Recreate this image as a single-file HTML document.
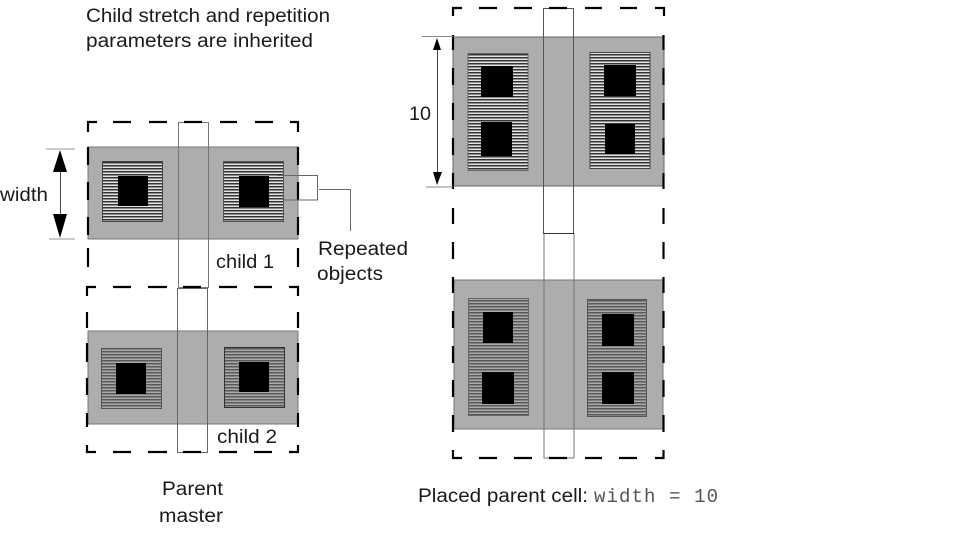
<!DOCTYPE html>
<html><head><meta charset="utf-8"><style>
html,body{margin:0;padding:0;background:#fff;width:963px;height:540px;overflow:hidden}
svg{display:block}
text{font-family:"Liberation Sans",sans-serif;font-size:19px;fill:#1a1a1a}
.m{font-family:"Liberation Mono",monospace;fill:#555;font-size:19px}
.d{fill:none;stroke:#000;stroke-width:2.2}
</style></head><body>
<svg width="963" height="540" viewBox="0 0 963 540" xmlns="http://www.w3.org/2000/svg">
<defs>
<pattern id="a" width="3" height="3" patternUnits="userSpaceOnUse"><rect width="3" height="3" fill="#e4e4e4"/><rect width="3" height="1.5" fill="#333"/></pattern>
<pattern id="b" width="3" height="3" patternUnits="userSpaceOnUse"><rect width="3" height="3" fill="#a8a8a8"/><rect width="3" height="1.5" fill="#5a5a5a"/></pattern>
</defs>

<!-- left top -->
<rect x="88" y="147" width="210" height="92" fill="#adadad" stroke="#777" stroke-width="1"/>
<rect x="102.500" y="161.500" width="60" height="60" fill="url(#a)" stroke="#444"/>
<rect x="118" y="176" width="30" height="30" fill="#000"/>
<rect x="223.500" y="161.500" width="60" height="60" fill="url(#a)" stroke="#555"/>
<rect x="239" y="176" width="30" height="31" fill="#000"/>
<rect x="178.500" y="122.500" width="30" height="165" fill="none" stroke="#777"/>
<path class="d" d="M88 132V122H97M113 122H131M149 122H167M184 122H202M220 122H237M255 122H273M290 122H298V132"/>
<path class="d" d="M88 147V165M88 182V200M88 217V235M88 248V267M298 147V165M298 182V200M298 217V235M298 248V267"/>
<path class="d" d="M87 296V287H96M113 287H131M148 287H167M183 287H201M219 287H237M254 287H272M289 287H298V296"/>

<!-- left bottom -->
<rect x="88" y="331" width="210" height="93" fill="#adadad" stroke="#777" stroke-width="1"/>
<rect x="101.500" y="348.500" width="60" height="60" fill="url(#b)" stroke="#555"/>
<rect x="116" y="363" width="30" height="31" fill="#000"/>
<rect x="224.500" y="347.500" width="60" height="60" fill="url(#b)" stroke="#333"/>
<rect x="239" y="362" width="30" height="30" fill="#000"/>
<rect x="177.500" y="288.500" width="30" height="164" fill="none" stroke="#666"/>
<path class="d" d="M87 312V328M87 343V362M87 378V395M87 413V427M298 312V328M298 343V362M298 378V395M298 413V427"/>
<path class="d" d="M87 445V452H96M113 452H131M148 452H167M183 452H201M219 452H237M254 452H272M289 452H298V445"/>

<!-- connector and dimensions (left) -->
<path d="M277 175.500H317.500V200H284M319 189.500H350.500V231" fill="none" stroke="#666"/>
<path d="M46 149H75M49 239H75" stroke="#999" stroke-width="1"/>
<path d="M60.500 170V216" stroke="#444"/>
<polygon points="60,150 67,172 53,172" fill="#000"/>
<polygon points="60,238 67,214 53,214" fill="#000"/>

<!-- right top -->
<rect x="453" y="37" width="211" height="149" fill="#adadad" stroke="#666" stroke-width="1"/>
<rect x="468" y="53.500" width="60" height="117" fill="url(#a)" stroke="#666"/>
<rect x="481" y="66" width="32" height="31" fill="#000"/>
<rect x="481" y="122" width="31" height="34" fill="#000"/>
<rect x="590" y="52.500" width="60" height="116" fill="url(#a)" stroke="#444"/>
<rect x="604" y="65" width="32" height="31" fill="#000"/>
<rect x="605" y="124" width="30" height="30" fill="#000"/>
<rect x="543.500" y="8.500" width="30" height="225" fill="none" stroke="#555"/>

<!-- right bottom -->
<rect x="454" y="280" width="209" height="149" fill="#adadad" stroke="#777" stroke-width="1"/>
<rect x="468.500" y="298.500" width="60" height="117" fill="url(#b)" stroke="#666"/>
<rect x="483" y="312" width="30" height="31" fill="#000"/>
<rect x="482" y="372" width="32" height="32" fill="#000"/>
<rect x="587.500" y="299.500" width="59" height="117" fill="url(#b)" stroke="#555"/>
<rect x="602" y="314" width="32" height="32" fill="#000"/>
<rect x="602" y="372" width="32" height="32" fill="#000"/>
<rect x="544" y="233.500" width="30" height="224.500" fill="none" stroke="#777"/>
<path d="M543.500 233.500H574" stroke="#333"/>

<!-- right dashed -->
<path class="d" d="M453 16V8H462M479 8H497M514 8H532M549 8H567M585 8H602M620 8H637M655 8H664V16"/>
<path class="d" d="M453 35V50M453 68V85M453 103V120M453 138V155M453 173V189M453 208V224M453 242V259M453 277V293M453 311V328M453 346V363M453 380V397M453 415V432"/>
<path class="d" d="M663.500 35V50M663.500 68V85M663.500 103V120M663.500 138V155M663.500 173V189M663.500 208V224M663.500 242V259M663.500 277V293M663.500 311V328M663.500 346V363M663.500 380V397M663.500 415V432"/>
<path class="d" d="M453 450V458H462M479 458H497M514 458H532M549 458H567M585 458H602M619 458H637M655 458H663.500V450"/>

<!-- dimension (right) -->
<path d="M422 36.500H453M426 187H453" stroke="#888" stroke-width="1"/>
<path d="M437.500 48V174" stroke="#444"/>
<polygon points="437,38 441,50 433,50" fill="#000"/>
<polygon points="437,185 442,172 433,172" fill="#000"/>

<!-- labels -->
<text x="86" y="22" textLength="244" lengthAdjust="spacingAndGlyphs">Child stretch and repetition</text>
<text x="86" y="47" textLength="227" lengthAdjust="spacingAndGlyphs">parameters are inherited</text>
<text x="0" y="201" textLength="48" lengthAdjust="spacingAndGlyphs">width</text>
<text x="216" y="268" textLength="58" lengthAdjust="spacingAndGlyphs">child 1</text>
<text x="318" y="255" textLength="90" lengthAdjust="spacingAndGlyphs">Repeated</text>
<text x="317" y="280" textLength="66" lengthAdjust="spacingAndGlyphs">objects</text>
<text x="217" y="443" textLength="60" lengthAdjust="spacingAndGlyphs">child 2</text>
<text x="162" y="495" textLength="61" lengthAdjust="spacingAndGlyphs">Parent</text>
<text x="159" y="522" textLength="64" lengthAdjust="spacingAndGlyphs">master</text>
<text x="409" y="120" textLength="22" lengthAdjust="spacingAndGlyphs">10</text>
<text x="418" y="502" textLength="170" lengthAdjust="spacingAndGlyphs">Placed parent cell:</text>
<text class="m" x="594" y="502" textLength="124" lengthAdjust="spacing">width = 10</text>
</svg>
</body></html>
